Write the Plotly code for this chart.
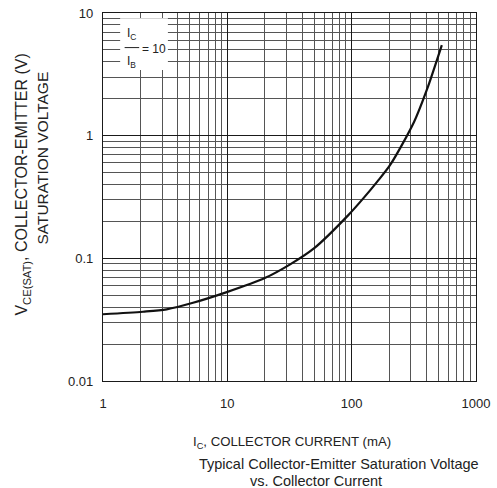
import plotly.graph_objects as go

# Data
ic_ma = [1, 2.1, 3.25, 5.3, 9.9, 20, 32, 50, 94, 124, 160, 204, 318, 402, 531]
vce_sat = [0.035, 0.0367, 0.0384, 0.0434, 0.053, 0.069, 0.0893, 0.121,
           0.225, 0.308, 0.42, 0.577, 1.30, 2.36, 5.48]

x_tickvals = [1, 10, 100, 1000]
x_ticktext = ["1", "10", "100", "1000"]
y_tickvals = [0.01, 0.1, 1, 10]
y_ticktext = ["0.01", "0.1", "1", "10"]

FONT = "Liberation Sans, Arial, sans-serif"

fig = go.Figure()
fig.add_trace(go.Scatter(
    x=ic_ma, y=vce_sat, mode="lines",
    line=dict(color="#111111", width=2.2, shape="spline", smoothing=0.8),
    showlegend=False, hoverinfo="skip",
))

axis_common = dict(
    type="log", automargin=False,
    showgrid=True, gridcolor="#1a1a1a", gridwidth=1.3,
    showline=True, linecolor="#1a1a1a", linewidth=1.3, mirror=True,
    ticks="", zeroline=False,
    tickfont=dict(family=FONT, size=13, color="#222"),
    minor=dict(showgrid=True, gridcolor="#555555", gridwidth=1, dtick="D1"),
)

fig.update_xaxes(range=[0, 3], tickvals=x_tickvals, ticktext=x_ticktext, ticklabelstandoff=10, **axis_common)
fig.update_yaxes(range=[-2, 1], tickvals=y_tickvals, ticktext=y_ticktext, ticklabelstandoff=6, **axis_common)

annos = [
    dict(text="I<sub>C</sub>, COLLECTOR CURRENT (mA)", x=0.507, y=-0.168, size=13.2),
    dict(text="Typical Collector-Emitter Saturation Voltage", x=0.633, y=-0.226, size=14.5),
    dict(text="vs. Collector Current", x=0.572, y=-0.272, size=14.5),
]
for a in annos:
    fig.add_annotation(xref="paper", yref="paper", showarrow=False,
                       xanchor="center", yanchor="middle",
                       text=a["text"], x=a["x"], y=a["y"],
                       font=dict(family=FONT, size=a["size"], color="#222"))

fig.add_annotation(xref="paper", yref="paper", showarrow=False, textangle=-90,
                   x=-0.216, y=0.535, xanchor="center", yanchor="middle",
                   text="V<sub>CE(SAT)</sub>, COLLECTOR-EMITTER (V)",
                   font=dict(family=FONT, size=16, color="#222"))
fig.add_annotation(xref="paper", yref="paper", showarrow=False, textangle=-90,
                   x=-0.162, y=0.606, xanchor="center", yanchor="middle",
                   text="SATURATION VOLTAGE",
                   font=dict(family=FONT, size=15.5, color="#222"))

# Condition box
fig.add_shape(type="rect", xref="paper", yref="paper",
              x0=0.046, x1=0.174, y0=0.845, y1=0.986,
              fillcolor="white", line=dict(width=0), layer="above")
fig.add_shape(type="line", xref="paper", yref="paper",
              x0=0.058, x1=0.097, y0=0.906, y1=0.906,
              line=dict(color="#222", width=1), layer="above")
fig.add_annotation(xref="paper", yref="paper", showarrow=False,
                   x=0.077, y=0.942, xanchor="center", yanchor="middle",
                   text="I<sub>C</sub>", font=dict(family=FONT, size=12, color="#222"))
fig.add_annotation(xref="paper", yref="paper", showarrow=False,
                   x=0.077, y=0.868, xanchor="center", yanchor="middle",
                   text="I<sub>B</sub>", font=dict(family=FONT, size=12, color="#222"))
fig.add_annotation(xref="paper", yref="paper", showarrow=False,
                   x=0.100, y=0.903, xanchor="left", yanchor="middle",
                   text="= 10", font=dict(family=FONT, size=12, color="#222"))

fig.update_layout(
    width=497, height=488,
    margin=dict(l=103, r=21, t=13, b=107, autoexpand=False),
    paper_bgcolor="white", plot_bgcolor="white",
    font=dict(family=FONT, color="#222"),
)

fig.write_html("out.html", config={"displayModeBar": False},
               post_script="document.body.style.margin='0';document.body.style.overflow='hidden';")
